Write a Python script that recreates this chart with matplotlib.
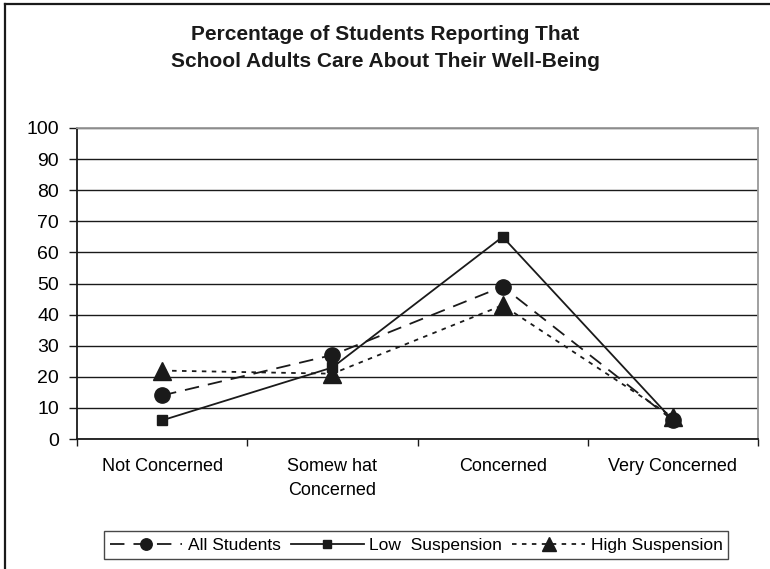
import matplotlib
matplotlib.use("Agg")
from matplotlib import pyplot as plt
from matplotlib.lines import Line2D

plt.rcParams['font.family'] = ['Liberation Sans', 'DejaVu Sans']

categories = ["Not Concerned", "Somew hat\nConcerned", "Concerned", "Very Concerned"]
all_students = [14, 27, 49, 6]
low_suspension = [6, 23, 65, 6]
high_suspension = [22, 21, 43, 7]
series_names = ["All Students", "Low  Suspension", "High Suspension"]
y_ticks = list(range(0, 101, 10))

ink = "#1a1a1a"

fig = plt.figure(figsize=(7.7, 5.69), dpi=100)
ax = fig.add_axes([77 / 770, 1 - 439 / 569, (758 - 77) / 770, (439 - 128) / 569])

x = list(range(len(categories)))

ax.plot(x, all_students, color=ink, lw=1.3, dashes=(8, 5),
        marker="o", markersize=11, label=series_names[0], zorder=4)
ax.plot(x, low_suspension, color=ink, lw=1.3, linestyle="-",
        marker="s", markersize=7.5, label=series_names[1], zorder=4)
ax.plot(x, high_suspension, color=ink, lw=1.3, dashes=(2.5, 3),
        marker="^", markersize=12.5, label=series_names[2], zorder=4)

ax.set_xlim(-0.5, len(categories) - 0.5)
ax.set_ylim(0, 100)
ax.set_yticks(y_ticks)
ax.set_yticklabels([str(v) for v in y_ticks], fontsize=14)
ax.yaxis.grid(True, color=ink, lw=1.0)
ax.set_axisbelow(True)

ax.set_xticks(x)
ax.set_xticklabels(categories, fontsize=13, linespacing=1.5)
ax.set_xticks([v - 0.5 for v in range(len(categories) + 1)], minor=True)
ax.tick_params(axis="x", which="major", length=0, pad=14)
ax.tick_params(axis="x", which="minor", length=5, width=1, color=ink)
ax.tick_params(axis="y", length=6, width=1, color=ink, pad=7)

for side in ["left", "bottom"]:
    ax.spines[side].set_color(ink)
    ax.spines[side].set_linewidth(1.3)
for side in ["top", "right"]:
    ax.spines[side].set_color("#999999")
    ax.spines[side].set_linewidth(1.3)

fig.text(0.5, 1 - 48 / 569,
         "Percentage of Students Reporting That\nSchool Adults Care About Their Well-Being",
         ha="center", va="center", fontsize=15, fontweight="bold",
         color=ink, linespacing=1.5)

leg = fig.legend(loc="center", bbox_to_anchor=(416 / 770, 1 - 545 / 569),
                 ncol=3, fontsize=12.5, frameon=True, fancybox=False,
                 handlelength=4.2, handletextpad=0.3, columnspacing=0.6,
                 borderpad=0.35, markerscale=0.75)
leg.get_frame().set_edgecolor(ink)
leg.get_frame().set_linewidth(1.0)

# outer frame of the original picture (top and left edges only)
fig.add_artist(Line2D([5 / 770, 5 / 770], [0, 1 - 4 / 569], transform=fig.transFigure,
                      color=ink, lw=1.6))
fig.add_artist(Line2D([5 / 770, 1], [1 - 4 / 569, 1 - 4 / 569], transform=fig.transFigure,
                      color=ink, lw=1.6))

fig.savefig("out.png", dpi=100)
